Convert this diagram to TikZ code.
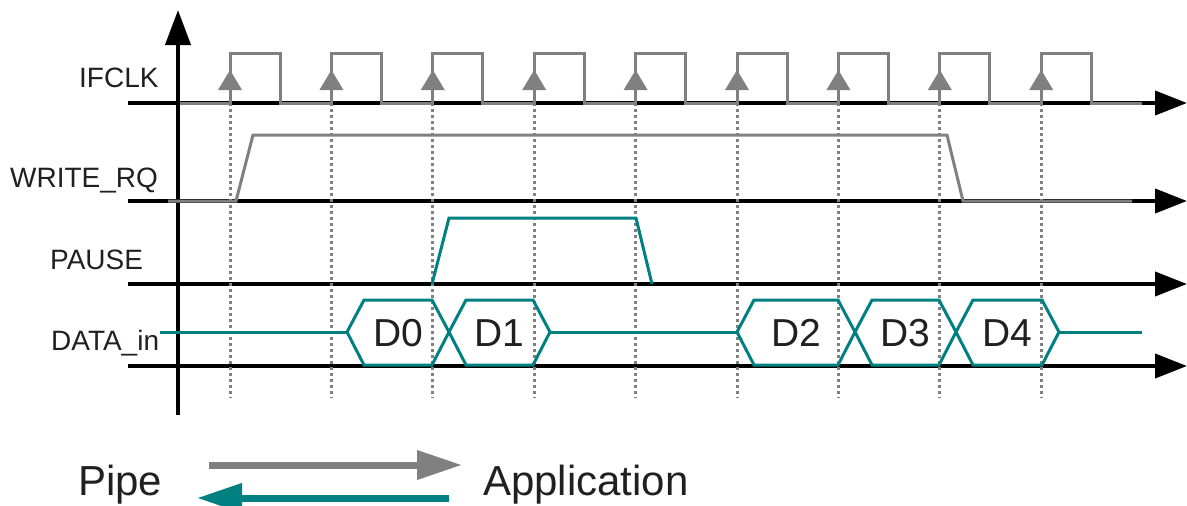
\documentclass[tikz,border=0pt]{standalone}
\usepackage{fontspec}
\setmainfont{Liberation Sans}
\usetikzlibrary{arrows.meta}
\definecolor{sigteal}{RGB}{0,128,128}
\definecolor{siggray}{RGB}{128,128,128}
\definecolor{txtdark}{RGB}{35,31,32}

\begin{document}
\begin{tikzpicture}[x=1pt, y=-1pt,
    axis/.style={line width=4pt, -{Triangle[length=32pt,width=24pt]}},
    clk/.style={siggray, line width=3pt},
    sig/.style={sigteal, line width=3pt},
    guide/.style={siggray, line width=3pt, dash pattern=on 3pt off 3pt},
    lbl/.style={txtdark, anchor=base west, inner sep=0pt, font=\fontsize{28}{32}\selectfont},
    dat/.style={txtdark, inner sep=0pt, font=\fontsize{39}{44}\selectfont},
    big/.style={txtdark, anchor=base west, inner sep=0pt, font=\fontsize{42}{48}\selectfont}]
   \useasboundingbox (0,0) rectangle (1187,506);

   % time axes
   \draw[line width=4pt, -{Triangle[length=35pt,width=25pt]}] (178,415) -- (178,10);
   \foreach \y in {103,201,284,366}
      \draw[axis] (128,\y) -- (1187,\y);

   % signal names
   \node[lbl] (ifclk) at (79,87) {IFCLK};
   \node[lbl] (wrq) at (10,187) {WRITE\_RQ};
   \node[lbl] (pause) at (50,269) {PAUSE};
   \node[lbl] (din) at (51,350) {DATA\_in};

   % guides at rising edges
   \foreach \k in {0,...,8}
      \draw[guide] ({230+101.4*\k},103) -- ({230+101.4*\k},398);

   % clock
   \draw[clk] (180,103) \foreach \k in {0,...,8} {
      -- ({230+101.4*\k},103) -- ++(0,-50) -- ++(50,0) -- ++(0,50) } -- (1142,103);
   \foreach \k in {0,...,8}
      \fill[siggray] ({230+101.4*\k},70) -- ++(-12,20) -- ++(24,0) -- cycle;

   % write request and pause
   \draw[clk] (168,201) -- (236,201) -- (253,135) -- (947,135) -- (963,201) -- (1132,201);
   \draw[sig] (432,284) -- (449,218) -- (636,218) -- (652,284);

   % data bus
   \draw[sig] (160,332) -- (347,332);
   \draw[sig] (550,332) -- (737,332);
   \draw[sig] (1059,332) -- (1142,332);
   \foreach \a/\b/\txt in {364/432/D0, 466/533/D1, 754/838/D2, 872/939/D3, 973/1042/D4} {
      \draw[sig] (\a-17,332) -- (\a,300) -- (\b,300) -- (\b+17,332) -- (\b,365) -- (\a,365) -- cycle;
      \node[dat] (\txt) at ({(\a+\b)/2},333) {\txt};
   }

   % legend
   \node[big] (pipe) at (78,495) {Pipe};
   \node[big] (app) at (483,495) {Application};
   \coordinate (toapp) at (462,465);
   \coordinate (topipe) at (197,498);
   \draw[siggray, line width=7pt, -{Triangle[length=45pt,width=28pt]}] (209,465) -- (toapp);
   \draw[sigteal, line width=7pt, -{Triangle[length=45pt,width=28pt]}] (449,498) -- (topipe);
\end{tikzpicture}
\end{document}
